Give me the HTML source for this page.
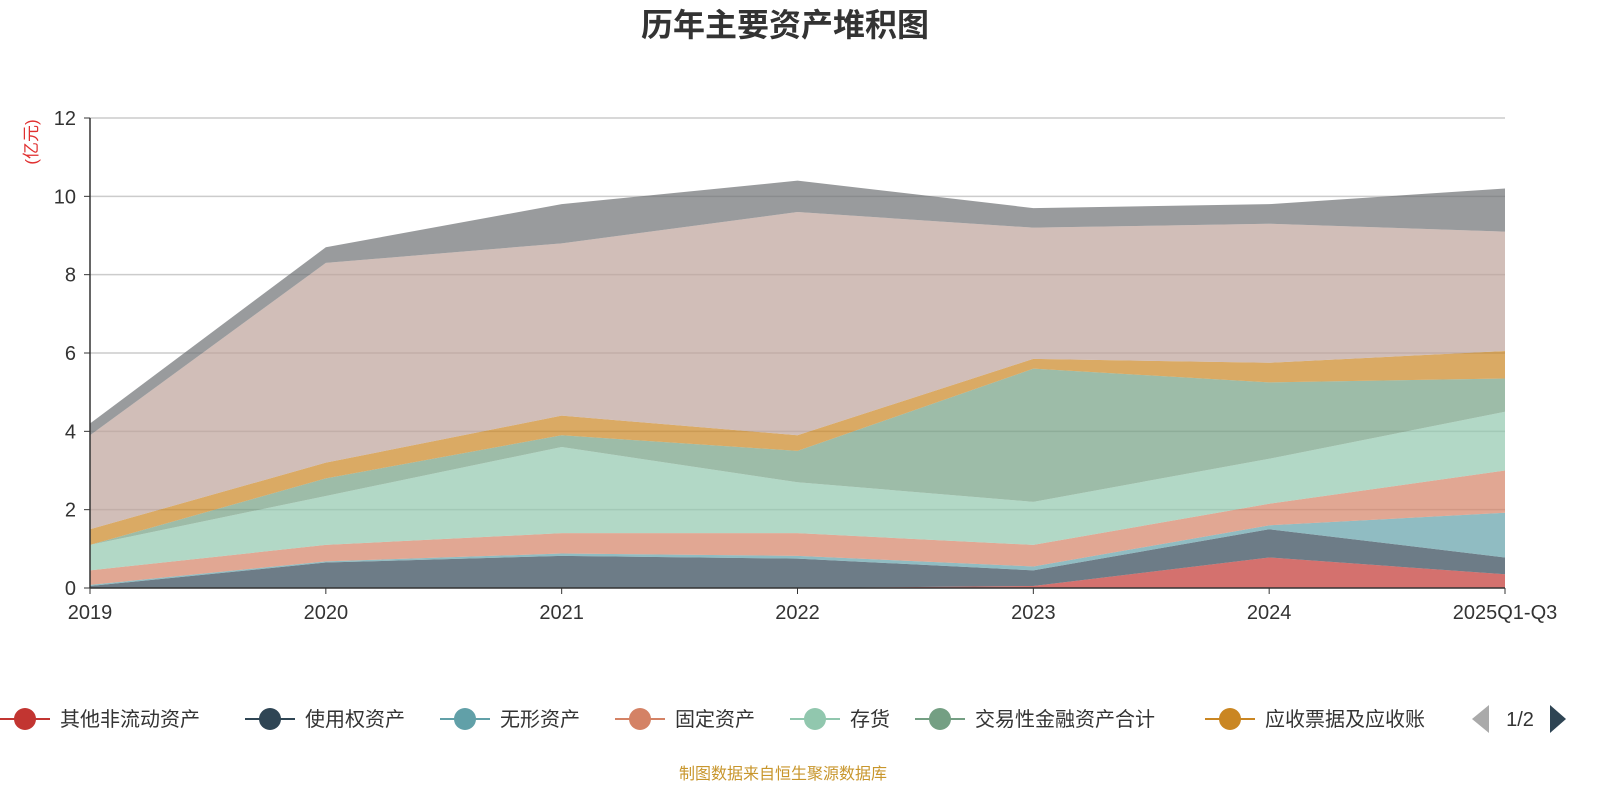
<!DOCTYPE html>
<html><head><meta charset="utf-8">
<style>
body{margin:0;background:#fff;width:1600px;height:800px;overflow:hidden;font-family:"Liberation Sans","Noto Sans CJK SC",sans-serif;}
</style></head>
<body>
<svg id="chart" width="1600" height="800" xmlns="http://www.w3.org/2000/svg" font-family="Liberation Sans, Noto Sans CJK SC, sans-serif">
<text x="785" y="36" text-anchor="middle" font-size="32" font-weight="bold" fill="#333">历年主要资产堆积图</text>
<text transform="translate(37,142) rotate(-90)" text-anchor="middle" font-size="17" fill="#e03030">(亿元)</text>
<g id="grid"></g>
<g id="areas"></g>
<g id="axes"></g>
<g id="legend"></g>
<text x="783" y="779" text-anchor="middle" font-size="16" fill="#c8962c">制图数据来自恒生聚源数据库</text>
</svg>
<script>
const categories=["2019","2020","2021","2022","2023","2024","2025Q1-Q3"];
const yTicks=[0,2,4,6,8,10,12];
const seriesNames=["其他非流动资产","使用权资产","无形资产","固定资产","存货","交易性金融资产合计","应收票据及应收账","货币资金","其他"];
const s0=[0,0,0,0,0.05,0.78,0.35];
const s1=[0.05,0.65,0.82,0.75,0.4,0.72,0.43];
const s2=[0.03,0.03,0.06,0.07,0.1,0.1,1.14];
const s3=[0.37,0.42,0.52,0.58,0.55,0.55,1.08];
const s4=[0.65,1.25,2.2,1.3,1.1,1.15,1.5];
const s5=[0,0.45,0.3,0.8,3.4,1.95,0.85];
const s6=[0.4,0.4,0.5,0.4,0.25,0.5,0.7];
const s7=[2.4,5.1,4.4,5.7,3.35,3.55,3.05];
const s8=[0.3,0.4,1.0,0.8,0.5,0.5,1.1];
const seriesValues=[s0,s1,s2,s3,s4,s5,s6,s7,s8];
const colors=["#c23531","#2f4554","#61a0a8","#d48265","#91c7ae","#749f83","#ca8622","#bda29a","#6e7074"];
const NS="http://www.w3.org/2000/svg";
const x0=90,x1=1505,yb=588,yt=118,ymax=12;
const xs=i=>x0+i*(x1-x0)/(categories.length-1);
const ys=v=>yb-v*(yb-yt)/ymax;
function mk(t,a,p){const e=document.createElementNS(NS,t);for(const k in a)e.setAttribute(k,a[k]);p.appendChild(e);return e;}
const grid=document.getElementById('grid'),axes=document.getElementById('axes'),areas=document.getElementById('areas'),legend=document.getElementById('legend');
yTicks.forEach(v=>{
  if(v>0){const l=mk('line',{x1:x0,x2:x1,y1:ys(v),y2:ys(v),stroke:'#ccc','stroke-width':1.5},grid);
  
  }
  const t=mk('text',{x:x0-14,y:ys(v)+7,'text-anchor':'end','font-size':20,fill:'#333'},axes);t.textContent=v;
  
  
  const k=mk('line',{x1:x0-6,x2:x0,y1:ys(v),y2:ys(v),stroke:'#333'},axes);
  
  
});
let base=categories.map(()=>0);
seriesValues.forEach((vals,si)=>{
  const top=base.map((b,i)=>b+vals[i]);
  let d='M'+top.map((v,i)=>xs(i)+','+ys(v)).join('L');
  for(let i=categories.length-1;i>=0;i--)d+='L'+xs(i)+','+ys(base[i]);
  d+='Z';
  const p=mk('path',{d:d,fill:colors[si],'fill-opacity':0.7},areas);
  
  
  base=top;
});
const ya=mk('line',{x1:x0,x2:x0,y1:yt,y2:yb,stroke:'#333','stroke-width':1.5},axes);


const xa=mk('line',{x1:x0,x2:x1,y1:yb,y2:yb,stroke:'#333','stroke-width':1.5},axes);


categories.forEach((c,i)=>{
  const t=mk('text',{x:xs(i),y:619,'text-anchor':'middle','font-size':20,fill:'#333'},axes);t.textContent=c;
  
  
  const k=mk('line',{x1:xs(i),x2:xs(i),y1:yb,y2:yb+6,stroke:'#333'},axes);
  
  
});
const lx=[0,245,440,615,790,915,1205];
for(let i=0;i<7;i++){
  const g=mk('g',{},legend);
  
  
  const cx=lx[i]+25;
  mk('line',{x1:cx-25,x2:cx+25,y1:719,y2:719,stroke:colors[i],'stroke-width':2},g);
  mk('circle',{cx:cx,cy:719,r:11,fill:colors[i]},g);
  const t=mk('text',{x:cx+35,y:726,'font-size':20,fill:'#333'},g);t.textContent=seriesNames[i];
}
const pl=mk('path',{d:'M1472,719 L1489,705 L1489,733 Z',fill:'#aaa'},legend);


const pt=mk('text',{x:1520,y:726,'text-anchor':'middle','font-size':20,fill:'#333'},legend);pt.textContent='1/2';


const pr=mk('path',{d:'M1566,719 L1550,705 L1550,733 Z',fill:'#2f4554'},legend);


</script>
</body></html>
